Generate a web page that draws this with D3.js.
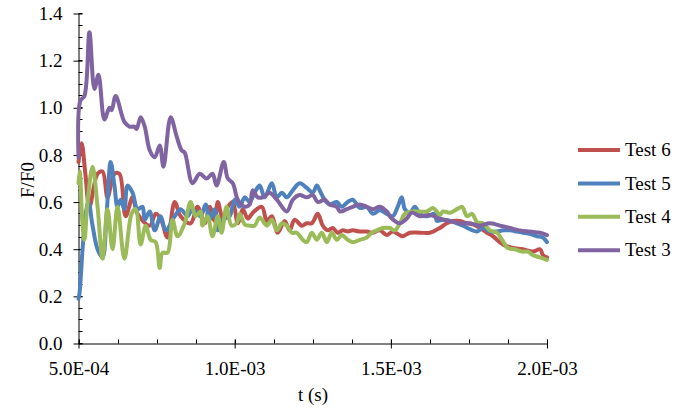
<!DOCTYPE html>
<html><head><meta charset="utf-8">
<script src="https://cdn.jsdelivr.net/npm/d3@7"></script>
<style>body{margin:0;background:#fff}svg{display:block}text{font-family:"Liberation Serif","Times New Roman",serif;fill:#000}</style>
</head><body><svg id="c" width="686" height="408"></svg>
<script>
const seriesNames = ["Test 6", "Test 5", "Test 4", "Test 3"];
const seriesColors = ["#C0504D", "#4F81BD", "#9BBB59", "#8064A2"];
const xMajorTicks = [0.5e-3, 1.0e-3, 1.5e-3, 2.0e-3];
const yMajorTicks = [0, 0.2, 0.4, 0.6, 0.8, 1.0, 1.2, 1.4];

// time in ms (scaled to seconds below), F/F0
const test6 = [[0.500,0.77],[0.510,0.85],[0.522,0.72],[0.535,0.58],[0.561,0.72],[0.577,0.73],[0.593,0.62],[0.615,0.72],[0.631,0.72],[0.651,0.54],[0.673,0.62],[0.689,0.55],[0.728,0.50],[0.747,0.55],[0.763,0.53],[0.785,0.45],[0.808,0.60],[0.827,0.54],[0.859,0.51],[0.881,0.58],[0.904,0.51],[0.920,0.58],[0.936,0.52],[0.946,0.60],[0.962,0.53],[0.978,0.58],[0.994,0.60],[1.010,0.51],[1.026,0.57],[1.042,0.53],[1.058,0.555],[1.087,0.58],[1.103,0.52],[1.119,0.54],[1.138,0.47],[1.160,0.52],[1.176,0.48],[1.192,0.525],[1.215,0.50],[1.231,0.51],[1.247,0.51],[1.266,0.55],[1.282,0.50],[1.298,0.48],[1.314,0.49],[1.330,0.47],[1.346,0.48],[1.362,0.475],[1.378,0.48],[1.401,0.475],[1.423,0.475],[1.442,0.47],[1.465,0.48],[1.487,0.46],[1.506,0.475],[1.538,0.455],[1.561,0.47],[1.593,0.47],[1.625,0.47],[1.657,0.49],[1.679,0.51],[1.699,0.52],[1.721,0.52],[1.744,0.51],[1.763,0.505],[1.785,0.49],[1.808,0.47],[1.827,0.455],[1.859,0.42],[1.891,0.405],[1.923,0.40],[1.955,0.39],[1.978,0.40],[1.987,0.375],[2.000,0.365]];
const test5 = [[0.500,0.19],[0.503,0.21],[0.513,0.40],[0.522,0.54],[0.532,0.60],[0.545,0.50],[0.561,0.40],[0.577,0.365],[0.590,0.55],[0.603,0.77],[0.615,0.67],[0.625,0.58],[0.635,0.61],[0.647,0.57],[0.657,0.67],[0.673,0.64],[0.689,0.57],[0.705,0.58],[0.712,0.525],[0.728,0.56],[0.744,0.48],[0.763,0.54],[0.779,0.48],[0.808,0.54],[0.827,0.57],[0.849,0.54],[0.865,0.57],[0.891,0.54],[0.907,0.59],[0.920,0.525],[0.936,0.57],[0.946,0.48],[0.962,0.525],[0.984,0.54],[1.000,0.61],[1.016,0.58],[1.032,0.62],[1.048,0.60],[1.064,0.64],[1.080,0.67],[1.096,0.62],[1.119,0.68],[1.135,0.62],[1.151,0.64],[1.167,0.62],[1.186,0.65],[1.208,0.68],[1.231,0.66],[1.250,0.64],[1.263,0.67],[1.272,0.65],[1.288,0.61],[1.304,0.59],[1.327,0.60],[1.343,0.58],[1.362,0.60],[1.378,0.61],[1.401,0.575],[1.423,0.58],[1.442,0.55],[1.465,0.565],[1.487,0.55],[1.506,0.54],[1.522,0.58],[1.535,0.62],[1.545,0.57],[1.561,0.555],[1.577,0.58],[1.593,0.55],[1.615,0.54],[1.641,0.55],[1.647,0.52],[1.667,0.525],[1.689,0.52],[1.712,0.51],[1.731,0.50],[1.753,0.485],[1.776,0.475],[1.795,0.49],[1.817,0.475],[1.840,0.475],[1.859,0.48],[1.881,0.48],[1.904,0.475],[1.923,0.47],[1.945,0.465],[1.968,0.455],[1.987,0.45],[2.000,0.43]];
const test4 = [[0.500,0.68],[0.504,0.73],[0.513,0.50],[0.519,0.44],[0.529,0.60],[0.545,0.75],[0.561,0.58],[0.577,0.36],[0.593,0.57],[0.609,0.40],[0.625,0.58],[0.647,0.36],[0.670,0.55],[0.683,0.57],[0.699,0.42],[0.715,0.50],[0.731,0.44],[0.747,0.43],[0.760,0.32],[0.769,0.385],[0.785,0.385],[0.801,0.525],[0.817,0.455],[0.840,0.51],[0.859,0.60],[0.875,0.54],[0.891,0.56],[0.897,0.50],[0.913,0.54],[0.929,0.455],[0.946,0.54],[0.958,0.47],[0.974,0.58],[0.990,0.50],[1.006,0.51],[1.016,0.55],[1.032,0.505],[1.048,0.50],[1.064,0.50],[1.080,0.535],[1.103,0.50],[1.119,0.525],[1.135,0.48],[1.151,0.51],[1.167,0.50],[1.183,0.47],[1.199,0.47],[1.218,0.44],[1.231,0.43],[1.247,0.47],[1.263,0.44],[1.279,0.47],[1.295,0.43],[1.311,0.47],[1.327,0.44],[1.343,0.46],[1.362,0.44],[1.378,0.43],[1.401,0.44],[1.423,0.45],[1.439,0.47],[1.455,0.48],[1.474,0.49],[1.497,0.49],[1.513,0.48],[1.529,0.51],[1.545,0.55],[1.567,0.56],[1.593,0.56],[1.615,0.56],[1.635,0.575],[1.647,0.56],[1.657,0.545],[1.667,0.56],[1.689,0.555],[1.712,0.57],[1.728,0.58],[1.744,0.54],[1.760,0.55],[1.776,0.515],[1.795,0.51],[1.817,0.48],[1.840,0.47],[1.856,0.44],[1.875,0.405],[1.897,0.40],[1.920,0.39],[1.939,0.39],[1.955,0.375],[1.978,0.365],[2.000,0.355]];
const test3 = [[0.500,0.79],[0.506,1.03],[0.519,1.05],[0.535,1.32],[0.551,1.08],[0.564,1.14],[0.583,0.95],[0.599,1.00],[0.606,0.99],[0.619,1.05],[0.647,0.94],[0.663,0.92],[0.679,0.92],[0.686,0.91],[0.699,0.96],[0.712,0.92],[0.728,0.82],[0.744,0.79],[0.760,0.84],[0.772,0.75],[0.795,0.96],[0.814,0.88],[0.830,0.82],[0.840,0.81],[0.865,0.68],[0.888,0.72],[0.910,0.70],[0.929,0.72],[0.942,0.67],[0.965,0.77],[0.978,0.70],[0.994,0.68],[1.010,0.61],[1.032,0.58],[1.048,0.59],[1.058,0.65],[1.074,0.62],[1.090,0.62],[1.112,0.64],[1.135,0.61],[1.167,0.56],[1.186,0.61],[1.208,0.63],[1.231,0.62],[1.250,0.63],[1.266,0.60],[1.288,0.61],[1.304,0.59],[1.327,0.58],[1.337,0.56],[1.359,0.57],[1.378,0.58],[1.401,0.59],[1.423,0.58],[1.442,0.57],[1.465,0.58],[1.487,0.56],[1.503,0.53],[1.529,0.51],[1.551,0.53],[1.567,0.555],[1.593,0.54],[1.625,0.545],[1.657,0.53],[1.689,0.52],[1.721,0.51],[1.753,0.51],[1.785,0.50],[1.817,0.51],[1.849,0.50],[1.881,0.49],[1.913,0.48],[1.945,0.475],[1.978,0.47],[2.000,0.46]];

const seriesData = [test6, test5, test4, test3].map(s => s.map(([t, v]) => [t * 1e-3, v]));

const FONT = "Liberation Serif, Times New Roman, serif";
const FS = 19;
const svg = d3.select("#c");
const x = d3.scaleLinear().domain([0.5e-3, 2.0e-3]).range([78.5, 547]);
const y = d3.scaleLinear().domain([0, 1.4]).range([343.5, 13.5]);

const fmtX = d => {
  const s = d3.format(".1e")(d);
  const [m, e] = s.split("e");
  const n = +e;
  return m + "E" + (n < 0 ? "-" : "+") + String(Math.abs(n)).padStart(2, "0");
};

const xMinor = d3.range(0, 13).map(i => 0.5e-3 + i * 0.125e-3);
const yMinor = d3.range(0, 29).map(i => i * 0.05);
const g = svg.append("g").attr("stroke", "#000").attr("stroke-width", 1);
g.selectAll(".xm").data(xMinor).join("line")
  .attr("x1", d => Math.round(x(d)) + 0.5).attr("x2", d => Math.round(x(d)) + 0.5)
  .attr("y1", 343.5).attr("y2", 339.5);
g.selectAll(".ym").data(yMinor).join("line")
  .attr("y1", d => Math.round(y(d) - 0.5) + 0.5).attr("y2", d => Math.round(y(d) - 0.5) + 0.5)
  .attr("x1", 78.5).attr("x2", 82.5);

const xAxis = d3.axisBottom(x).tickValues(xMajorTicks).tickFormat(fmtX).tickSizeInner(5).tickSizeOuter(0).tickPadding(13);
const xg = svg.append("g").attr("transform", "translate(0,343.5)").call(xAxis);
xg.selectAll(".tick line").attr("y1", -4);
const yAxis = d3.axisLeft(y).tickValues(yMajorTicks).tickFormat(d3.format(".1f")).tickSizeInner(5).tickSizeOuter(0).tickPadding(11);
const yg = svg.append("g").attr("transform", "translate(78.5,0)").call(yAxis);
yg.selectAll(".tick line").attr("x1", 4);
[xg, yg].forEach(a => {
  a.attr("font-family", FONT).attr("font-size", FS);
  a.selectAll("text").attr("font-size", FS).attr("font-family", FONT).attr("fill", "#000");
  a.select(".domain").attr("stroke", "#000");
  a.selectAll(".tick line").attr("stroke", "#000");
});

const line = d3.line().x(d => x(d[0])).y(d => y(d[1])).curve(d3.curveCatmullRom.alpha(0.5));
svg.append("g").selectAll("path").data(seriesData).join("path")
  .attr("d", line).attr("fill", "none")
  .attr("stroke", (d, i) => seriesColors[i]).attr("stroke-width", 4)
  .attr("stroke-linejoin", "round").attr("stroke-linecap", "round");

svg.append("text").attr("x", 313).attr("y", 401).attr("text-anchor", "middle").attr("font-family", FONT).attr("font-size", FS).text("t (s)");
svg.append("text").attr("transform", "translate(34,180) rotate(-90)").attr("text-anchor", "middle").attr("font-family", FONT).attr("font-size", FS).text("F/F0");

const lg = svg.append("g").selectAll("g").data(seriesNames).join("g")
  .attr("transform", (d, i) => `translate(0,${150 + i * 33.4})`);
lg.append("line").attr("x1", 578).attr("x2", 620).attr("y1", 0).attr("y2", 0)
  .attr("stroke", (d, i) => seriesColors[i]).attr("stroke-width", 4);
lg.append("text").attr("x", 625).attr("y", 0).attr("dy", "0.33em").attr("font-family", FONT).attr("font-size", FS).text(d => d);
</script></body></html>
